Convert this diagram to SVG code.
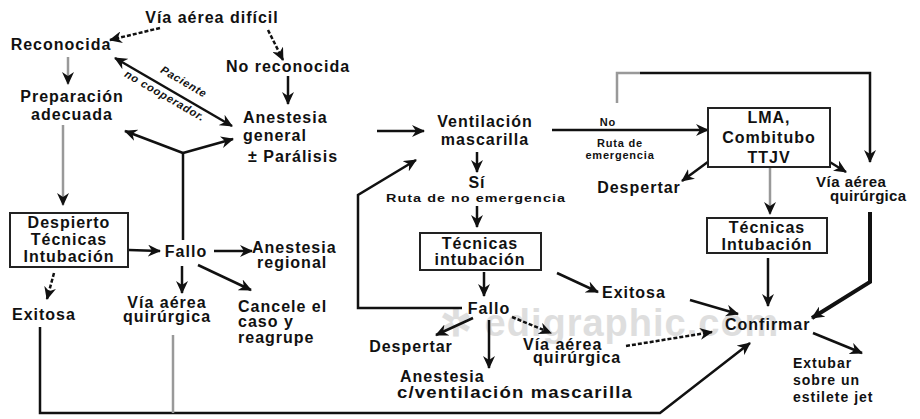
<svg xmlns="http://www.w3.org/2000/svg" width="920" height="419" viewBox="0 0 920 419">
<defs>
<style>
.t{font-family:"Liberation Sans",Arial,sans-serif;font-weight:bold;font-size:16px;letter-spacing:1px;fill:#111}
.c{text-anchor:middle}
.s{font-size:11px;letter-spacing:0.8px}
.m{font-size:14px}
.e{stroke:#111;stroke-width:2.5;fill:none}
.g{stroke:#999;stroke-width:2.5;fill:none}
.d{stroke-dasharray:4 2}
.bx{fill:#fff;stroke:#222;stroke-width:2}
.wm{font-family:"Liberation Sans",Arial,sans-serif;font-weight:bold;font-size:38px;fill:#dedede;letter-spacing:1px}
</style>
<marker id="a" markerUnits="userSpaceOnUse" markerWidth="14" markerHeight="12" refX="12" refY="6" orient="auto-start-reverse">
<path d="M0,0 L13,6 L0,12 L4,6 Z" fill="#111"/>
</marker>
<marker id="ag" markerUnits="userSpaceOnUse" markerWidth="14" markerHeight="12" refX="12" refY="6" orient="auto">
<path d="M0,0 L13,6 L0,12 L4,6 Z" fill="#111"/>
</marker>
</defs>
<rect width="920" height="419" fill="#fff"/>
<text class="wm" x="440" y="336">✲ edigraphic.com</text>

<g id="connectors">
<line class="e d" x1="160" y1="28" x2="110" y2="40" marker-end="url(#a)"/>
<line class="e d" x1="268" y1="30" x2="283" y2="60" marker-end="url(#a)"/>
<line class="g" x1="68" y1="57" x2="68" y2="84" marker-end="url(#ag)"/>
<line class="e" x1="115" y1="58" x2="232" y2="126" marker-start="url(#a)" marker-end="url(#a)"/>
<line class="e" x1="288" y1="76" x2="288" y2="104" marker-end="url(#a)"/>
<line class="e" x1="183" y1="240" x2="183" y2="153"/>
<line class="e" x1="183" y1="153" x2="125" y2="131" marker-end="url(#a)"/>
<line class="e" x1="183" y1="153" x2="233" y2="139" marker-end="url(#a)"/>
<line class="e" x1="377" y1="131" x2="424" y2="131" marker-end="url(#a)"/>
<line class="e" x1="477" y1="152" x2="477" y2="172" marker-end="url(#a)"/>
<line class="e" x1="477" y1="206" x2="477" y2="227" marker-end="url(#a)"/>
<line class="e" x1="484" y1="272" x2="484" y2="296" marker-end="url(#a)"/>
<polyline class="e" points="462,308 358,308 358,195 416,160" marker-end="url(#a)"/>
<line class="e" x1="473" y1="318" x2="436" y2="335" marker-end="url(#a)"/>
<line class="e" x1="489" y1="320" x2="489" y2="368" marker-end="url(#a)"/>
<line class="e d" x1="512" y1="317" x2="551" y2="333" marker-end="url(#a)"/>
<line class="e d" x1="626" y1="346" x2="712" y2="332" marker-end="url(#a)"/>
<line class="e" x1="557" y1="273" x2="598" y2="292" marker-end="url(#a)"/>
<line class="e" x1="690" y1="300" x2="738" y2="314" marker-end="url(#a)"/>
<polyline class="e" points="40,327 40,413 660,413 750,343" marker-end="url(#a)"/>
<line class="g" x1="173" y1="335" x2="173" y2="413"/>
<line class="e" x1="768" y1="258" x2="768" y2="306" marker-end="url(#a)"/>
<polyline class="e" style="stroke-width:4" points="870,212 870,282 812,318" marker-end="url(#a)"/>
<line class="e" x1="813" y1="333" x2="862" y2="353" marker-end="url(#a)"/>
<line class="e" x1="552" y1="130" x2="708" y2="130" marker-end="url(#a)"/>
<polyline class="g" points="617,103 617,73 640,73"/>
<polyline class="e" points="640,73 870,73 870,162" marker-end="url(#a)"/>
<line class="e" x1="720" y1="153" x2="682" y2="181" marker-end="url(#a)"/>
<line class="e" x1="807" y1="148" x2="846" y2="172" marker-end="url(#a)"/>
<line class="g" x1="770" y1="168" x2="770" y2="214" marker-end="url(#ag)"/>
<line class="g" x1="63" y1="125" x2="63" y2="205" marker-end="url(#ag)"/>
<line class="e" x1="129" y1="250" x2="160" y2="251" marker-end="url(#a)"/>
<line class="e" x1="214" y1="251" x2="252" y2="251" marker-end="url(#a)"/>
<line class="e" x1="182" y1="266" x2="182" y2="293" marker-end="url(#a)"/>
<line class="e" x1="198" y1="265" x2="251" y2="290" marker-end="url(#a)"/>
<line class="e d" x1="54" y1="273" x2="47" y2="299" marker-end="url(#a)"/>
<text class="t s" transform="translate(182,85) rotate(30)" text-anchor="middle" font-style="italic">Paciente</text>
<text class="t s" transform="translate(163,99) rotate(30)" text-anchor="middle" font-style="italic">no cooperador.</text>
<text class="t s c" x="608" y="126">No</text>
<text class="t s c" x="620" y="147">Ruta de</text>
<text class="t s c" x="620" y="159">emergencia</text>
<text class="t s" x="386" y="202" textLength="180" lengthAdjust="spacingAndGlyphs">Ruta de no emergencia</text>
</g>

<g id="via-aerea-dificil"><text class="t c" x="212" y="23">Vía aérea difícil</text></g>
<g id="reconocida"><text class="t c" x="61" y="50">Reconocida</text></g>
<g id="no-reconocida"><text class="t c" x="288" y="72">No reconocida</text></g>
<g id="preparacion"><text class="t c" x="72" y="102">Preparación</text><text class="t c" x="72" y="120">adecuada</text></g>
<g id="anestesia-general"><text class="t" x="243" y="123">Anestesia</text><text class="t" x="243" y="141">general</text><text class="t" x="248" y="162">± Parálisis</text></g>
<g id="ventilacion"><text class="t c" x="485" y="127">Ventilación</text><text class="t c" x="485" y="145">mascarilla</text></g>
<g id="si"><text class="t c" x="477" y="188">Sí</text></g>
<g id="tecnicas-centro"><rect class="bx" x="420" y="233" width="121" height="37"/><text class="t c" x="480" y="249">Técnicas</text><text class="t c" x="480" y="265">intubación</text></g>
<g id="fallo-centro"><text class="t c" x="489" y="314">Fallo</text></g>
<g id="despertar-centro"><text class="t c" x="411" y="352">Despertar</text></g>
<g id="anestesia-ventilacion"><text class="t" x="400" y="382">Anestesia</text><text class="t" x="397" y="398" textLength="236" lengthAdjust="spacingAndGlyphs">c/ventilación mascarilla</text></g>
<g id="via-quirurgica-centro"><text class="t" x="523" y="350">Vía aérea</text><text class="t" x="533" y="363">quirúrgica</text></g>
<g id="exitosa-centro"><text class="t" x="602" y="298">Exitosa</text></g>
<g id="confirmar"><text class="t" x="725" y="330">Confirmar</text></g>
<g id="extubar"><text class="t m" x="793" y="368">Extubar</text><text class="t m" x="793" y="385">sobre un</text><text class="t m" x="793" y="402">estilete jet</text></g>
<g id="lma"><rect class="bx" x="708" y="108" width="122" height="59"/><text class="t c" x="769" y="123">LMA,</text><text class="t c" x="769" y="143">Combitubo</text><text class="t c" x="769" y="163">TTJV</text></g>
<g id="despertar-derecha"><text class="t c" x="639" y="193">Despertar</text></g>
<g id="via-quirurgica-derecha"><text class="t" x="816" y="187" style="font-size:15px;letter-spacing:0.5px">Vía aérea</text><text class="t" x="830" y="201" style="font-size:15px;letter-spacing:0.3px">quirúrgica</text></g>
<g id="tecnicas-derecha"><rect class="bx" x="707" y="218" width="120" height="35"/><text class="t c" x="767" y="233">Técnicas</text><text class="t c" x="767" y="250">Intubación</text></g>
<g id="despierto"><rect class="bx" x="10" y="213" width="118" height="54"/><text class="t c" x="69" y="228">Despierto</text><text class="t c" x="69" y="245">Técnicas</text><text class="t c" x="69" y="262">Intubación</text></g>
<g id="fallo-izquierda"><text class="t c" x="186" y="257">Fallo</text></g>
<g id="anestesia-regional"><text class="t" x="252" y="253">Anestesia</text><text class="t" x="257" y="268">regional</text></g>
<g id="via-quirurgica-izquierda"><text class="t c" x="167" y="308">Vía aérea</text><text class="t c" x="167" y="322">quirúrgica</text></g>
<g id="cancele"><text class="t" x="238" y="312">Cancele el</text><text class="t" x="238" y="327">caso y</text><text class="t" x="238" y="343">reagrupe</text></g>
<g id="exitosa-izquierda"><text class="t" x="12" y="320">Exitosa</text></g>
</svg>
